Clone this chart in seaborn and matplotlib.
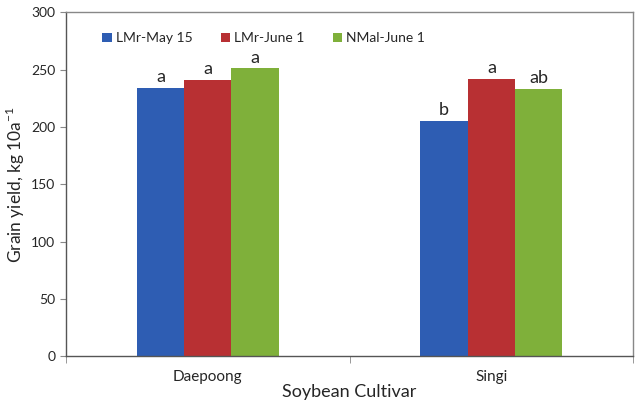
import pandas as pd
import matplotlib
matplotlib.use('Agg')
import matplotlib.pyplot as plt
import seaborn as sns

# Data
cultivars = ['Daepoong', 'Singi']
treatments = ['LMr-May 15', 'LMr-June 1', 'NMal-June 1']
yield_daepoong = [234, 241, 251]
yield_singi = [205, 242, 233]
letters_daepoong = ['a', 'a', 'a']
letters_singi = ['b', 'a', 'ab']
colors = ['#2e5db3', '#b83033', '#7fb03a']

rows = []
for cv, vals, lets in [('Daepoong', yield_daepoong, letters_daepoong),
                       ('Singi', yield_singi, letters_singi)]:
    for t, v, l in zip(treatments, vals, lets):
        rows.append({'cultivar': cv, 'treatment': t, 'yield': v, 'letter': l})
df = pd.DataFrame(rows)

sns.set_style('white')
plt.rcParams['font.family'] = ['Lato', 'DejaVu Sans']
plt.rcParams['mathtext.fontset'] = 'custom'
plt.rcParams['mathtext.rm'] = 'Lato'

fig, ax = plt.subplots(figsize=(6.39, 4.05), dpi=100)
sns.barplot(data=df, x='cultivar', y='yield', hue='treatment', order=cultivars,
            hue_order=treatments, palette=colors, width=0.5, saturation=1,
            errorbar=None, linewidth=0, ax=ax)

# significance letters above bars
for container, t in zip(ax.containers, treatments):
    labs = [df[(df.cultivar == c) & (df.treatment == t)].letter.iloc[0] for c in cultivars]
    ax.bar_label(container, labels=labs, padding=2, fontsize=13)

ax.set_ylim(0, 300)
ax.set_yticks(range(0, 301, 50))
ax.set_xlim(-0.5, 1.5)
ax.set_xlabel('Soybean Cultivar', fontsize=13, labelpad=0)
ax.set_ylabel('Grain yield, kg 10a$^{\\mathrm{-1}}$', fontsize=12.5, labelpad=3)
ax.tick_params(axis='y', which='major', direction='out', length=4, left=True,
               labelsize=10, color='#888888')
ax.tick_params(axis='x', which='major', length=0, labelsize=11, pad=10)
ax.set_xticks([-0.5, 0.5, 1.5], minor=True)
ax.tick_params(axis='x', which='minor', direction='out', length=5, bottom=True,
               color='#888888')

for side in ['left', 'right', 'top', 'bottom']:
    ax.spines[side].set_visible(True)
    ax.spines[side].set_color('#888888')
    ax.spines[side].set_linewidth(1)
ax.spines['left'].set_color('#555555')
ax.spines['bottom'].set_color('#555555')

ax.legend(loc='upper left', bbox_to_anchor=(0.042, 0.978), ncol=3, frameon=False,
          fontsize=10, handlelength=0.7, handleheight=0.7, handletextpad=0.3,
          columnspacing=2.0)

plt.subplots_adjust(left=0.103, right=0.991, top=0.97, bottom=0.12)
plt.savefig('out.png', dpi=100)
